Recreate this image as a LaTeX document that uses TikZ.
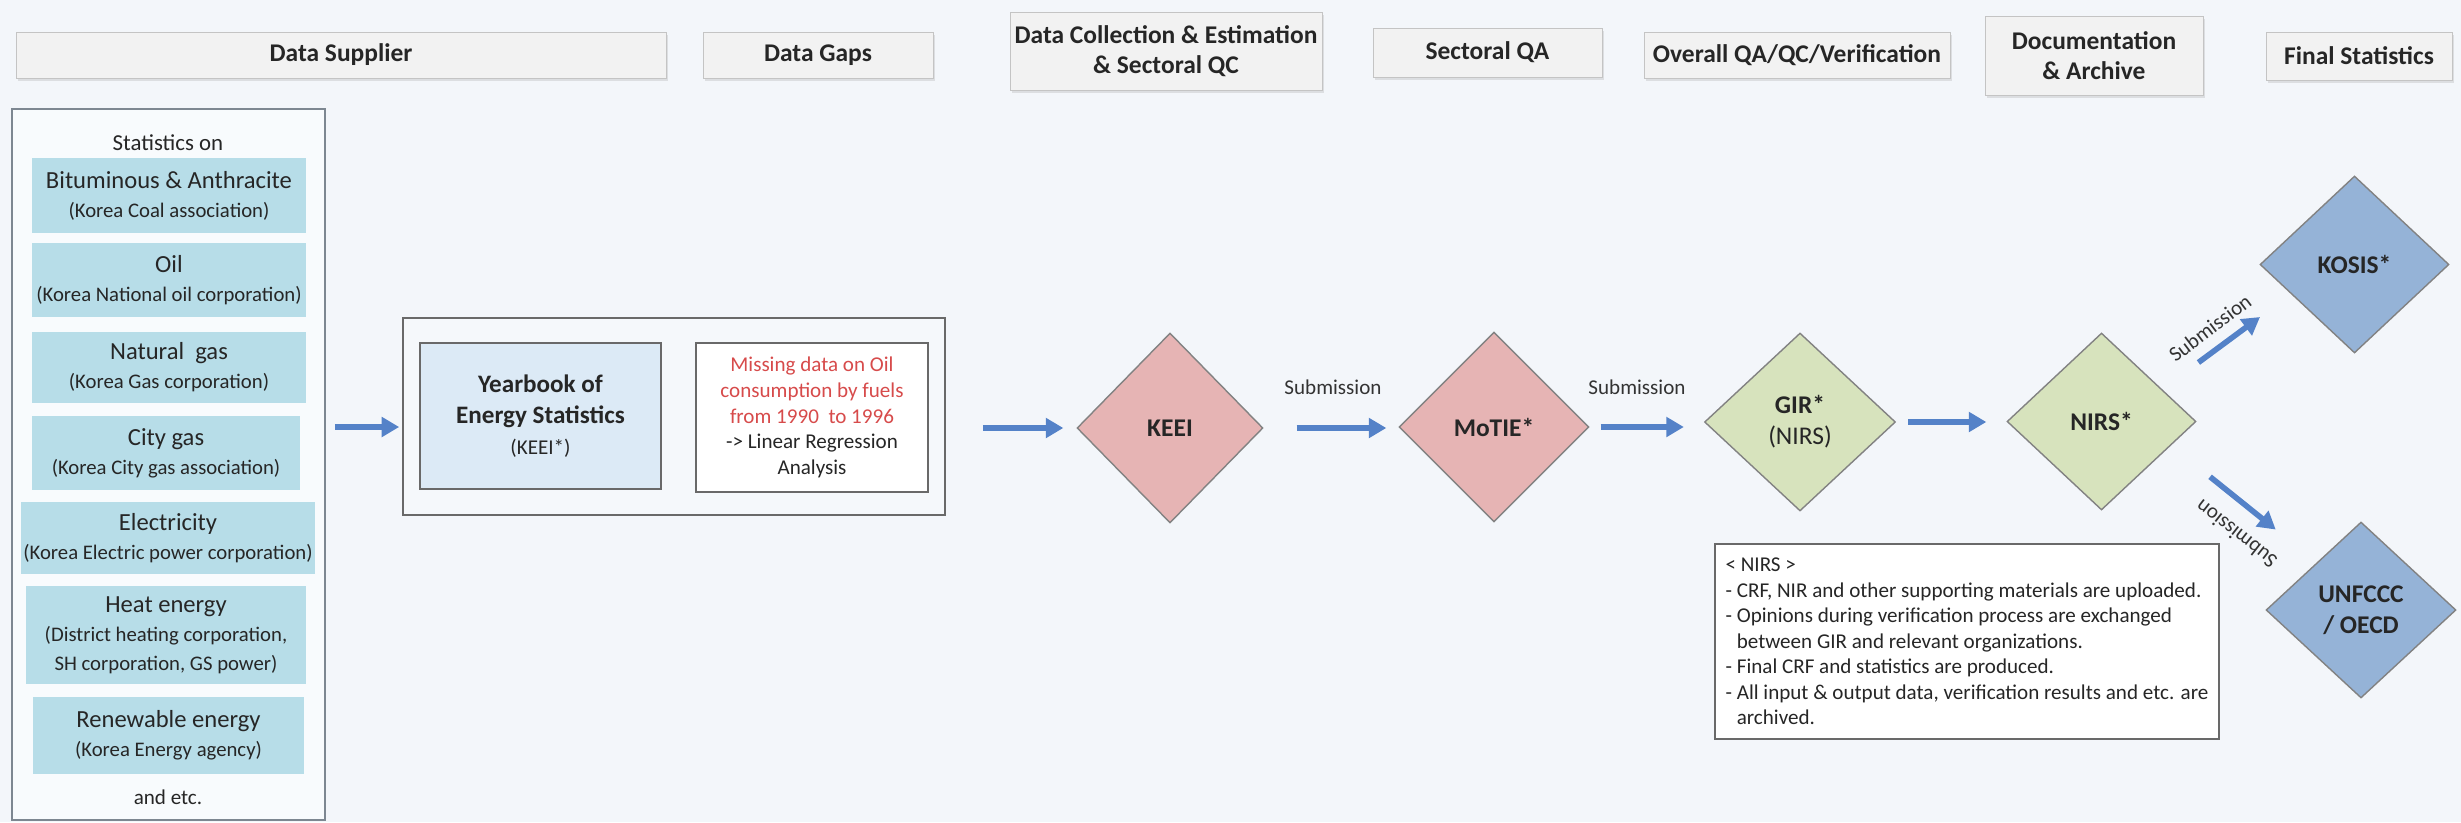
\documentclass[tikz,border=0pt]{standalone}
\usepackage{fontspec}
\setmainfont{Carlito}
\usepackage{xcolor}
\usetikzlibrary{shapes.geometric, arrows.meta, positioning, shadows}

\definecolor{bgcol}{RGB}{243,246,250}
\definecolor{headfill}{RGB}{242,242,242}
\definecolor{headline}{RGB}{196,196,196}
\definecolor{panelfill}{RGB}{248,251,253}
\definecolor{paneledge}{RGB}{125,135,145}
\definecolor{srcfill}{RGB}{183,221,232}
\definecolor{groupfill}{RGB}{245,248,251}
\definecolor{groupedge}{RGB}{105,105,105}
\definecolor{yearfill}{RGB}{220,234,246}
\definecolor{gapred}{RGB}{215,75,75}
\definecolor{pinkfill}{RGB}{230,180,180}
\definecolor{greenfill}{RGB}{215,227,189}
\definecolor{bluefill}{RGB}{149,179,215}
\definecolor{diaedge}{RGB}{130,130,130}
\definecolor{flowblue}{RGB}{84,130,200}

\newcommand{\subline}[1]{{\fontsize{11.8}{14}\selectfont #1}}

\begin{document}
\begin{tikzpicture}[x=0.02cm, y=-0.02cm, text=black!85,
    headbox/.style={draw=headline, fill=headfill, align=center, inner sep=0pt,
        font=\fontsize{14.5}{17}\selectfont\bfseries,
        drop shadow={shadow xshift=1pt, shadow yshift=-1.5pt, opacity=0.2}},
    srcbox/.style={fill=srcfill, align=center, inner sep=0pt,
        font=\fontsize{14}{16.5}\selectfont},
    dia/.style={diamond, draw=diaedge, line width=0.8pt, inner sep=0pt, align=center,
        font=\fontsize{14.5}{17.5}\selectfont\bfseries},
    flowarrow/.style={draw=flowblue, line width=3.2pt, -{Triangle[length=10pt, width=11pt]}},
    sublabel/.style={font=\fontsize{12}{14}\selectfont, text=black!80, inner sep=0pt}]

    \useasboundingbox (0,0) rectangle (2461,822);
    \fill[bgcol] (0,0) rectangle (2461,822);

    % column headers
    \node[headbox, minimum width=13cm, minimum height=0.92cm] (hSupplier) at (341,55) {Data Supplier};
    \node[headbox, minimum width=4.6cm, minimum height=0.92cm] (hGaps) at (818,55) {Data Gaps};
    \node[headbox, minimum width=6.24cm, minimum height=1.56cm] (hCollect) at (1166,51) {Data Collection \& Estimation\\\& Sectoral QC};
    \node[headbox, minimum width=4.58cm, minimum height=0.98cm] (hSectQA) at (1487.5,52.5) {Sectoral QA};
    \node[headbox, minimum width=6.12cm, minimum height=0.92cm] (hOverall) at (1797,55) {Overall QA/QC/Verification};
    \node[headbox, minimum width=4.36cm, minimum height=1.58cm] (hDoc) at (2094,55.5) {Documentation\\\& Archive};
    \node[headbox, minimum width=3.72cm, minimum height=0.96cm] (hFinal) at (2359,56) {Final Statistics};

    % data suppliers
    \node[draw=paneledge, line width=1pt, fill=panelfill, minimum width=6.26cm, minimum height=14.22cm] (panel) at (168.5,464.5) {};
    \node[font=\fontsize{13}{15}\selectfont] (statsOn) at (168,143) {Statistics on};
    \node[srcbox, minimum width=5.48cm, minimum height=1.5cm] (coal) at (169,195.5) {Bituminous \& Anthracite\\\subline{(Korea Coal association)}};
    \node[srcbox, minimum width=5.48cm, minimum height=1.48cm] (oil) at (169,280) {Oil\\\subline{(Korea National oil corporation)}};
    \node[srcbox, minimum width=5.48cm, minimum height=1.42cm] (natgas) at (169,367.5) {Natural\ \ gas\\\subline{(Korea Gas corporation)}};
    \node[srcbox, minimum width=5.36cm, minimum height=1.48cm] (citygas) at (166,453) {City gas\\\subline{(Korea City gas association)}};
    \node[srcbox, minimum width=5.88cm, minimum height=1.44cm] (elec) at (168,538) {Electricity\\\subline{(Korea Electric power corporation)}};
    \node[srcbox, minimum width=5.6cm, minimum height=1.96cm] (heat) at (166,635) {Heat energy\\\subline{(District heating corporation,}\\\subline{SH corporation, GS power)}};
    \node[srcbox, minimum width=5.42cm, minimum height=1.54cm] (renew) at (168.5,735.5) {Renewable energy\\\subline{(Korea Energy agency)}};
    \node[font=\fontsize{12}{14}\selectfont] (andEtc) at (168,797) {and etc.};

    % data gaps
    \node[draw=groupedge, line width=1pt, fill=groupfill, minimum width=10.84cm, minimum height=3.94cm] (gapgroup) at (674,416.5) {};
    \node[draw=groupedge, line width=0.8pt, fill=yearfill, minimum width=4.82cm, minimum height=2.92cm,
          align=center, font=\fontsize{14.3}{17.5}\selectfont\bfseries] (yearbook) at (540.5,416)
          {Yearbook of\\Energy Statistics\\{\fontsize{12}{14}\selectfont\mdseries (KEEI*)}};
    \node[draw=groupedge, line width=0.8pt, fill=white, minimum width=4.64cm, minimum height=2.98cm,
          align=center, font=\fontsize{12}{14.6}\selectfont] (missing) at (812,417.5)
          {\textcolor{gapred}{Missing data on Oil}\\\textcolor{gapred}{consumption by fuels}\\\textcolor{gapred}{from 1990\ \ to 1996}\\-> Linear Regression\\Analysis};

    % institutions
    \node[dia, fill=pinkfill, minimum width=3.72cm, minimum height=3.8cm] (keei) at (1170,428) {KEEI};
    \node[dia, fill=pinkfill, minimum width=3.8cm, minimum height=3.8cm] (motie) at (1494,427) {MoTIE*};
    \node[dia, fill=greenfill, minimum width=3.82cm, minimum height=3.56cm] (gir) at (1800,422) {GIR*\\{\mdseries (NIRS)}};
    \node[dia, fill=greenfill, minimum width=3.78cm, minimum height=3.54cm] (nirs) at (2101.5,421.5) {NIRS*};
    \node[dia, fill=bluefill, minimum width=3.78cm, minimum height=3.54cm] (kosis) at (2354.5,264.5) {KOSIS*};
    \node[dia, fill=bluefill, minimum width=3.8cm, minimum height=3.52cm] (unfccc) at (2361,610) {UNFCCC\\/ OECD};

    \node[draw=groupedge, line width=1pt, fill=white, minimum width=10.08cm, minimum height=3.9cm,
          align=left, font=\fontsize{12}{14.5}\selectfont] (note) at (1967,641.5)
          {< NIRS >\\
           - CRF, NIR and other supporting materials are uploaded.\\
           - Opinions during verification process are exchanged\\
           \phantom{- }between GIR and relevant organizations.\\
           - Final CRF and statistics are produced.\\
           - All input \& output data, verification results and etc. are\\
           \phantom{- }archived.};

    % flow
    \coordinate (rowA) at (0,427);
    \draw[flowarrow, shorten <=0.18cm, shorten >=0.06cm] (panel.east |- rowA) -- (gapgroup.west |- rowA);
    \draw[flowarrow, shorten <=0.74cm, shorten >=0.26cm] (gapgroup.east |- keei.west) -- (keei.west);
    \draw[flowarrow, shorten <=0.66cm, shorten >=0.24cm] (keei.east) -- (keei.east -| motie.west);
    \draw[flowarrow, shorten <=0.22cm, shorten >=0.4cm] (motie.east) -- (motie.east -| gir.west);
    \draw[flowarrow, shorten <=0.24cm, shorten >=0.4cm] (gir.east) -- (gir.east -| nirs.west);
    \draw[flowarrow, shorten <=0.9cm, shorten >=0.77cm] (nirs.28) -- (kosis.-155);
    \draw[flowarrow, shorten <=1.0cm, shorten >=1.05cm] (nirs.-19) -- (unfccc.133);

    \node[sublabel] (sub1) at (1333,387) {Submission};
    \node[sublabel] (sub2) at (1637,387) {Submission};
    \node[sublabel, rotate=37] (sub3) at (2210,328) {Submission};
    \node[sublabel, rotate=142] (sub4) at (2236,534) {Submission};
\end{tikzpicture}
\end{document}
